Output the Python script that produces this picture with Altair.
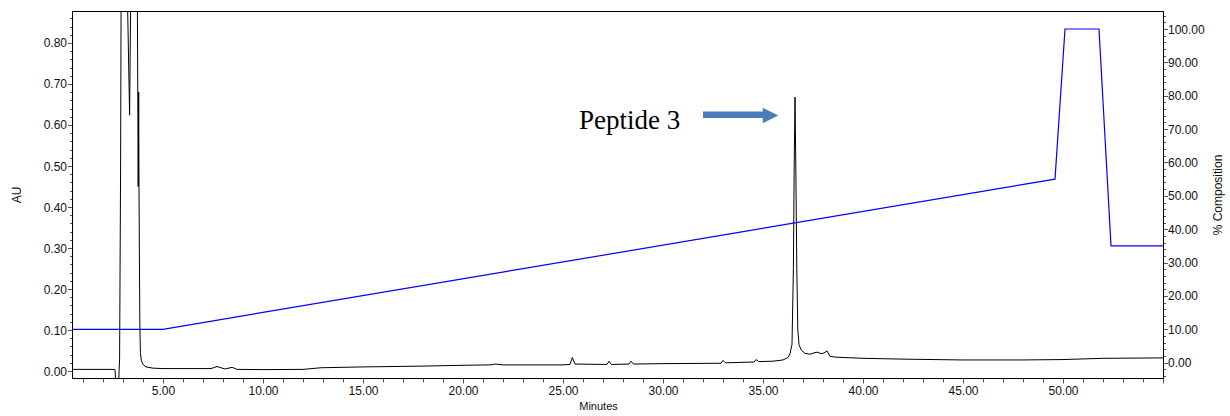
import altair as alt
import pandas as pd

# UV trace (AU) against retention time (minutes)
trace_min = [
    0.45, 2.55, 2.60, 2.64, 2.78, 2.83, 2.88, 2.93, 3.05, 3.15, 3.33, 3.42, 3.55,
    3.70, 3.76, 3.785, 3.80, 3.84, 3.87, 3.92, 4.00, 4.15, 4.50, 5.00, 6.00, 7.40,
    7.70, 8.10, 8.45, 8.70, 10.0, 12.0, 12.9, 15.0, 18.0, 20.0, 21.4, 21.6, 22.0,
    25.0, 25.35, 25.47, 25.6, 27.2, 27.3, 27.42, 28.3, 28.4, 28.52, 30.0, 32.9,
    33.0, 33.12, 34.55, 34.65, 34.78, 35.5, 36.0, 36.25, 36.35, 36.45, 36.52,
    36.56, 36.60, 36.64, 36.69, 36.74, 36.80, 36.90, 37.10, 37.35, 37.60, 37.75,
    37.90, 38.05, 38.20, 38.35, 38.60, 39.0, 40.0, 42.0, 45.0, 48.0, 50.0, 52.0,
    55.0,
]
trace_au = [
    0.004, 0.004, 0.003, -0.03, -0.03, 0.03, 0.5, 1.3, 1.6, 1.1, 0.624, 1.1, 1.5,
    1.1, 0.45, 0.68, 0.45, 0.12, 0.045, 0.025, 0.016, 0.010, 0.007, 0.006, 0.006,
    0.006, 0.011, 0.005, 0.009, 0.004, 0.0035, 0.004, 0.008, 0.010, 0.012, 0.014,
    0.015, 0.017, 0.015, 0.015, 0.016, 0.033, 0.017, 0.016, 0.024, 0.016, 0.017,
    0.024, 0.017, 0.018, 0.019, 0.026, 0.020, 0.022, 0.028, 0.023, 0.024, 0.027,
    0.033, 0.042, 0.065, 0.25, 0.50, 0.668, 0.50, 0.25, 0.10, 0.065, 0.052,
    0.043, 0.041, 0.045, 0.046, 0.042, 0.044, 0.049, 0.036, 0.034, 0.033, 0.031,
    0.029, 0.027, 0.027, 0.028, 0.031, 0.032,
]

# Gradient program (% composition)
gradient_min = [0.45, 5.0, 49.6, 50.1, 51.8, 52.4, 55.0]
gradient_pct = [10, 10, 55, 100, 100, 35, 35]

label_text = ["Peptide 3"]

X_DOMAIN = [0.45, 55.0]
AU_DOMAIN = [-0.017, 0.878]
PCT_DOMAIN = [-4.6, 105.4]

x_ticks = list(range(1, 56))
au_ticks = [i / 50 for i in range(0, 44)]
pct_ticks = list(range(-4, 105, 2))

trace = pd.DataFrame({"t": trace_min, "au": trace_au})
gradient = pd.DataFrame({"t": gradient_min, "pct": gradient_pct})

LABEL_FONT = "Liberation Sans, Arial, sans-serif"
TICK_COLOR = "#555555"
TEXT_COLOR = "#111111"

x_scale = alt.Scale(domain=X_DOMAIN, nice=False, zero=False)
x_axis = alt.Axis(
    values=x_ticks,
    labelExpr="(datum.value % 5 == 0 && datum.value <= 50) ? format(datum.value, '.2f') : ''",
    tickSize={"condition": {"test": "datum.value % 5 == 0", "value": 5}, "value": 4},
    tickColor=TICK_COLOR,
    domainColor="black",
    labelOverlap=False,
    labelFlush=False,
    labelPadding=2,
    labelFont=LABEL_FONT,
    labelFontSize=12,
    labelColor=TEXT_COLOR,
    grid=False,
    title="Minutes",
    titleFont="Liberation Sans Narrow, Liberation Sans, Arial, sans-serif",
    titleFontSize=11,
    titleFontWeight="normal",
    titleColor=TEXT_COLOR,
    titleX=526,
    titlePadding=4,
)


def x_enc():
    return alt.X("t:Q", scale=x_scale, axis=x_axis)


au_scale = alt.Scale(domain=AU_DOMAIN, nice=False, zero=False)
AU_MAJOR = "abs(datum.value * 10 - round(datum.value * 10)) < 0.001"
au_axis = alt.Axis(
    orient="left",
    values=au_ticks,
    labelExpr=AU_MAJOR + " ? format(datum.value, '.2f') : ''",
    tickSize={"condition": {"test": AU_MAJOR, "value": 4.5}, "value": 2.5},
    tickColor=TICK_COLOR,
    domainColor="black",
    labelOverlap=False,
    labelFlush=False,
    labelPadding=1,
    labelFont=LABEL_FONT,
    labelFontSize=12,
    labelColor=TEXT_COLOR,
    grid=False,
    title="AU",
    titleFont=LABEL_FONT,
    titleFontSize=12,
    titleFontWeight="normal",
    titleColor=TEXT_COLOR,
    titlePadding=20,
)

trace_line = alt.Chart(trace).mark_line(color="black", strokeWidth=1, clip=True).encode(
    x=x_enc(),
    y=alt.Y("au:Q", scale=au_scale, axis=au_axis),
    order="t:Q",
)

# Annotation: label and arrow pointing at the main peak
label_df = pd.DataFrame({"t": [25.8], "au": [0.591], "text": label_text})
label = alt.Chart(label_df).mark_text(
    align="left", baseline="alphabetic", font="Liberation Serif, Times New Roman, serif",
    fontSize=27, color="black",
).encode(
    x=x_enc(),
    y=alt.Y("au:Q", scale=au_scale, axis=None),
    text="text:N",
)

ARROW_BLUE = "#4a7ebb"
shaft_df = pd.DataFrame({"t": [32.0], "t2": [35.0], "au": [0.625]})
shaft = alt.Chart(shaft_df).mark_rule(color=ARROW_BLUE, strokeWidth=6.5).encode(
    x=x_enc(),
    x2="t2:Q",
    y=alt.Y("au:Q", scale=au_scale, axis=None),
)
head_df = pd.DataFrame({"t": [35.375], "au": [0.623]})
head = alt.Chart(head_df).mark_point(
    shape="M-1,-1L1,0L-1,1Z", filled=True, color=ARROW_BLUE, opacity=1, size=240, strokeWidth=0,
).encode(
    x=x_enc(),
    y=alt.Y("au:Q", scale=au_scale, axis=None),
)

PCT_MAJOR = "datum.value % 10 == 0"
pct_axis = alt.Axis(
    orient="right",
    values=pct_ticks,
    labelExpr="(" + PCT_MAJOR + " && datum.value >= 0) ? format(datum.value, '.2f') : ''",
    tickSize={"condition": {"test": PCT_MAJOR, "value": 4.5}, "value": 2.5},
    tickColor=TICK_COLOR,
    domainColor="black",
    labelOverlap=False,
    labelFlush=False,
    labelPadding=0,
    labelFont=LABEL_FONT,
    labelFontSize=12,
    labelColor=TEXT_COLOR,
    grid=False,
    title="% Composition",
    titleFont=LABEL_FONT,
    titleFontSize=12,
    titleFontWeight="normal",
    titleColor=TEXT_COLOR,
    titleAngle=270,
    titleBaseline="top",
    titlePadding=8,
)

gradient_line = alt.Chart(gradient).mark_line(color="#0000ff", strokeWidth=1.2, clip=True).encode(
    x=x_enc(),
    y=alt.Y("pct:Q", scale=alt.Scale(domain=PCT_DOMAIN, nice=False, zero=False), axis=pct_axis),
    order="t:Q",
)

chart = (
    alt.layer(trace_line, label, shaft, head, gradient_line)
    .resolve_scale(y="independent")
    .resolve_axis(y="independent")
    .properties(
        width=1091,
        height=367,
        autosize=alt.AutoSizeParams(type="none"),
        padding={"left": 72, "top": 11, "right": 67, "bottom": 38},
        background="white",
    )
    .configure_view(stroke="black", strokeWidth=1)
)

chart.save("out.html", embed_options={"renderer": "svg", "actions": False})
